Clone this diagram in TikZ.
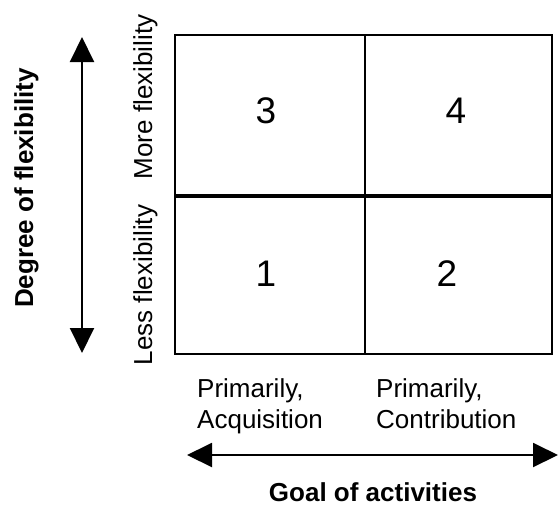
\documentclass[tikz,border=0pt]{standalone}
\usepackage{fontspec}
\setmainfont{Liberation Sans}
\usetikzlibrary{arrows.meta}
\usetikzlibrary{positioning}
\tikzset{
lbl/.style={font=\fontsize{26}{31}\selectfont,
  align=left,
    inner sep=0pt},
num/.style={font=\fontsize{37}{40}\selectfont,
  inner sep=0pt},
axislbl/.style={font=\fontsize{26}{30}\selectfont\bfseries,
  inner sep=0pt},
}
\tikzset{dblarrow/.style={line width=2pt,{Triangle[length=25pt,width=24pt]}-{Triangle[length=25pt,width=24pt]}}}

\begin{document}
\begin{tikzpicture}[x=1pt,y=-1pt]
    \useasboundingbox (0,0) rectangle (559,507);

    \coordinate (tl) at (175,35);
    \coordinate (br) at (552,354);
    \coordinate (mt) at (365,35);
    \coordinate (mb) at (365,354);
    \coordinate (ml) at (175,196);
    \coordinate (mr) at (552,196);

    \node [num] (n3) at (266,111) {3};
    \node [num] (n4) at (456,111) {4};
    \node [num] (n1) at (266,274) {1};
    \node [num] (n2) at (447,274) {2};

    \node [lbl, rotate=90, anchor=base] (less) at (152,285) {Less flexibility};
    \node [lbl, rotate=90, anchor=base] (more) at (152,97) {More flexibility};
    \node [axislbl, rotate=90, anchor=base] (deg) at (33,188) {Degree of flexibility};

    \node [lbl, anchor=north west] (acq) at (197,378) {Primarily,\\Acquisition};
    \node [lbl, anchor=north west] (con) at (376,378) {Primarily,\\Contribution};
    \node [axislbl, anchor=base] (goal) at (373,501) {Goal of activities};

    \coordinate (vtop) at (82,37);
    \coordinate (vbot) at (82,353);
    \coordinate (hl) at (187,455);
    \coordinate (hr) at (558,455);

  \draw [line width=2pt] (tl) rectangle (br);
  \draw [line width=2pt] (mt) -- (mb);
  \draw [line width=4pt] (ml) -- (mr);

  \draw [dblarrow] (vbot) -- (vtop);
  \draw [dblarrow] (hl) -- (hr);
  \end{tikzpicture}
\end{document}
